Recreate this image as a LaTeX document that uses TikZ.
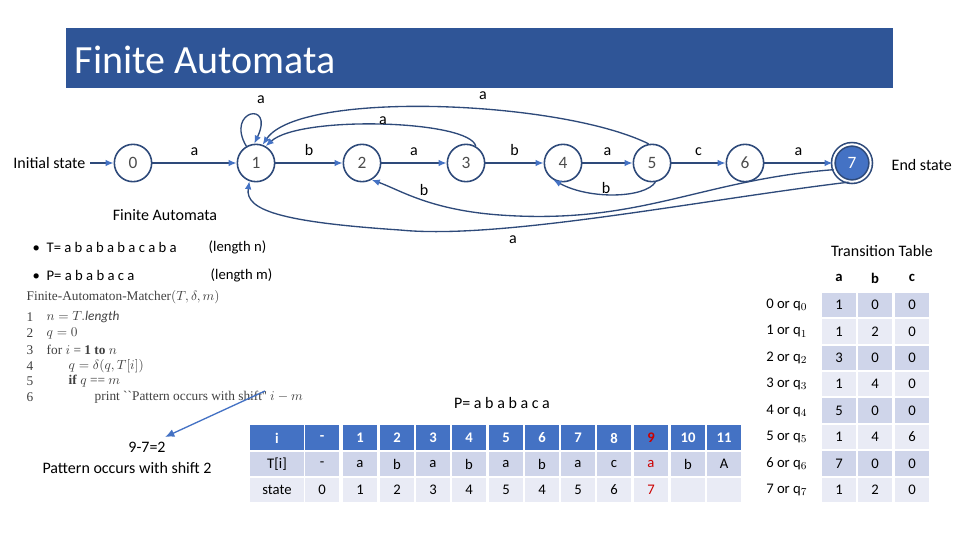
\documentclass[tikz,border=0pt]{standalone}
\usepackage{fontspec}
\setmainfont{Carlito}
\newfontfamily\serifalg{Liberation Serif}
\usetikzlibrary{arrows.meta}
\definecolor{titleblue}{HTML}{2F5597}
\definecolor{hdr}{HTML}{4472C4}
\definecolor{rowd}{HTML}{CFD5EA}
\definecolor{rowl}{HTML}{E9EBF5}
\definecolor{edge}{HTML}{2E4A7A}
\definecolor{arr}{HTML}{4472C4}
\begin{document}
\begin{tikzpicture}[x=0.75pt,y=-0.75pt,
  st/.style={circle,draw=edge,line width=1.2pt,minimum size=28pt,inner sep=0pt,font=\fontsize{13}{13}\selectfont,text=black!70},
  tr/.style={draw=edge,line width=1pt,-{Latex[length=6pt,width=5pt,color=arr]}},
  lbl/.style={font=\fontsize{12}{12}\selectfont},
  txt/.style={font=\fontsize{12}{12}\selectfont,anchor=west},
  cell/.style={minimum width=34.5pt*0.75/0.75*0.75/0.75,inner sep=0pt,font=\fontsize{11}{11}\selectfont}]
\useasboundingbox (0,0) rectangle (960,540);
\fill[titleblue] (66,28) rectangle (893,88);
\node[anchor=west,text=white,font=\fontsize{30}{30}\selectfont] (title) at (70,60) {Finite Automata};
% states
\node[st] (s0) at (133,163) {0};
\node[st] (s1) at (256,163) {1};
\node[st] (s2) at (362,163) {2};
\node[st] (s3) at (466,163) {3};
\node[st] (s4) at (563,163) {4};
\node[st] (s5) at (652,163) {5};
\node[st] (s6) at (745,163) {6};
\node[st,fill=hdr,text=white,double=white,double distance=1.5pt] (s7) at (852,163) {7};
\node[lbl,anchor=east] (init) at (90,163) {Initial state};
\node[lbl,anchor=west] (endst) at (887,165) {End state};
\draw[tr] (init) -- (s0);
\draw[tr] (s0) -- node[lbl,above=2pt]{a} (s1);
\draw[tr] (s1) -- node[lbl,above=2pt]{b} (s2);
\draw[tr] (s2) -- node[lbl,above=2pt]{a} (s3);
\draw[tr] (s3) -- node[lbl,above=2pt]{b} (s4);
\draw[tr] (s4) -- node[lbl,above=2pt]{a} (s5);
\draw[tr] (s5) -- node[lbl,above=2pt]{c} (s6);
\draw[tr] (s6) -- node[lbl,above=2pt]{a} (s7);
% self loop
\draw[tr] (s1.120) .. controls (225,110) and (275,100) .. (s1.95);
\node[lbl] (la1) at (261,100) {a};
% 3 -> 1
\draw[tr] (s3.60) .. controls (470,120) and (300,115) .. (s1.60);
\node[lbl] (la3) at (383,121) {a};
% 5 -> 1
\draw[tr] (s5.100) .. controls (560,100) and (300,90) .. (s1.70);
\node[lbl] (la5) at (483,96) {a};
% 5 -> 4
\draw[tr] (s5.-80) .. controls (645,198) and (590,200) .. (s4.-120);
\node[lbl] (lb5) at (606,188) {b};
% 7 -> 2
\draw[tr] (s7.-160) .. controls (700,180) and (640,225) .. (500,215) .. controls (430,210) and (400,190) .. (s2.-60);
\node[lbl] (lb7) at (424,190) {b};
% 7 -> 1
\draw[tr] (s7.-100) .. controls (700,200) and (500,240) .. (400,230) .. controls (280,222) and (245,210) .. (s1.-110);
\node[lbl] (la7) at (513,240) {a};
% texts
\node[lbl] (fa) at (165,215) {Finite Automata};
\node[txt,font=\fontsize{11}{11}\selectfont] (T) at (28,247) {\textbullet\ \ T= a b a b a b a c a b a};
\node[txt,font=\fontsize{11}{11}\selectfont] (Tn) at (204,247) {(length n)};
\node[txt,font=\fontsize{11}{11}\selectfont] (P) at (28,275) {\textbullet\ \ P= a b a b a c a};
\node[txt,font=\fontsize{11}{11}\selectfont] (Pm) at (206,275) {(length m)};
% algorithm
\begin{scope}[every node/.style={anchor=west,font=\serifalg\fontsize{10}{10}\selectfont,text=black!75}]
\node (alg0) at (22,297) {\textsc{Finite-Automaton-Matcher}$(T,\delta,m)$};
\node (alg1) at (22,317) {1};\node at (42,317) {$n = T.\mathit{length}$};
\node (alg2) at (22,333) {2};\node at (42,333) {$q = 0$};
\node (alg3) at (22,350) {3};\node at (42,350) {for $i$ = \textbf{1 to} $n$};
\node (alg4) at (22,366) {4};\node at (64,366) {$q = \delta(q,T[i])$};
\node (alg5) at (22,381) {5};\node at (64,381) {\textbf{if} $q$ == $m$};
\node (alg6) at (22,397) {6};\node (pr) at (90,397) {print ``Pattern occurs with shift'' $i-m$};
\end{scope}
\coordinate (as) at (265,391);
\node[lbl] (shiftcalc) at (147,447) {9-7=2};
\node[lbl] (shift) at (127,468) {Pattern occurs with shift 2};
\draw[arr,line width=1pt,-{Latex[length=7pt,width=6pt]}] (as) -- (165,437);
\node[lbl] (pp) at (502,403) {P= a b a b a c a};
% bottom table
\foreach \x/\w [count=\c] in {277/54,322/34,360/34,397/34,433/34,469/34,506/34,542/34,578/34,614/34,651/34,688/34,724/34}{
  \fill[hdr] (\x-\w/2,425) rectangle (\x+\w/2,450);
  \fill[rowd] (\x-\w/2,452) rectangle (\x+\w/2,476);
  \fill[rowl] (\x-\w/2,478) rectangle (\x+\w/2,502);
}
\foreach \x/\a/\b/\cc in {277/i/T[i]/state,322/-/-/0,360/1/a/1,397/2/b/2,433/3/a/3,469/4/b/4,506/5/a/5,542/6/b/4,578/7/a/5,614/8/c/6,688/10/b/,724/11/A/}{
  \node[cell,text=white,font=\bfseries\fontsize{11}{11}\selectfont] at (\x,438) {\a};
  \node[cell] at (\x,464) {\b};
  \node[cell] at (\x,490) {\cc};
}
\node[cell,text=red!80!black,font=\bfseries\fontsize{11}{11}\selectfont] (c9) at (651,438) {9};
\node[cell,text=red!80!black] (t9) at (651,464) {a};
\node[cell,text=red!80!black] (st9) at (651,490) {7};
% transition table
\node[lbl] (tt) at (882,251) {Transition Table};
\node[cell,font=\bfseries\fontsize{11}{11}\selectfont] (ha) at (839,278) {a};
\node[cell,font=\bfseries\fontsize{11}{11}\selectfont] (hb) at (875,278) {b};
\node[cell,font=\bfseries\fontsize{11}{11}\selectfont] (hc) at (912,278) {c};
\foreach \a/\b/\cc [count=\r from 0] in {1/0/0,1/2/0,3/0/0,1/4/0,5/0/0,1/4/6,7/0/0,1/2/0}{
  \pgfmathsetmacro{\y}{305+26.4*\r}
  \pgfmathtruncatemacro{\odd}{mod(\r,2)}
  \ifnum\odd=0 \def\rc{rowd}\else\def\rc{rowl}\fi
  \foreach \x in {839,875,912}{\fill[\rc] (\x-17,\y-12.2) rectangle (\x+17,\y+12.2);}
  \node[cell] at (839,\y) {\a};
  \node[cell] at (875,\y) {\b};
  \node[cell] at (912,\y) {\cc};
  \node[cell,anchor=east] at (810,\y) {\r\ or q$_{\r}$};
}
\end{tikzpicture}
\end{document}
